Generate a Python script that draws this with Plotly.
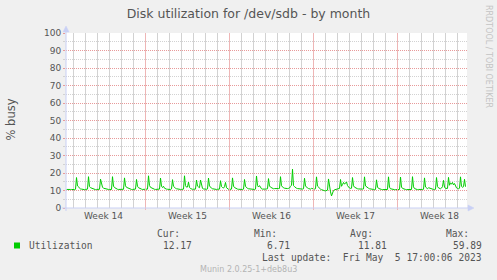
import plotly.graph_objects as go
import pandas as pd

# ---------------- data ----------------
title_text = "Disk utilization for /dev/sdb - by month"
y_label = "% busy"
series_name = "Utilization"
series_color = "#00cc00"

start_time = "2023-04-03 10:00"   # first sample, 2-hour resolution
sample_step = "2h"

# % busy, one list per day (2-hour samples), Apr 3 .. May 6 2023
util_by_day = [
    [10.6, 10.7, 10.6, 10.5, 10.6, 10.6, 10.5],
    [10.6, 10.5, 10.7, 17.4, 12.6, 11.8, 11.2, 10.9, 10.8, 10.6, 10.7, 10.5],
    [10.6, 10.6, 10.8, 17.9, 12.3, 11.6, 11.4, 11.0, 10.7, 10.6, 10.5, 10.6],
    [10.5, 10.6, 10.7, 16.5, 12.8, 11.9, 11.3, 11.1, 10.8, 10.7, 10.6, 10.6],
    [10.6, 10.7, 10.6, 17.9, 12.5, 11.7, 11.2, 10.9, 10.7, 10.6, 10.6, 10.5],
    [10.6, 10.5, 10.7, 17.2, 12.7, 11.8, 11.5, 11.2, 10.9, 10.7, 10.6, 10.6],
    [10.7, 10.6, 10.8, 16.3, 12.4, 11.6, 11.2, 11.0, 10.8, 10.6, 10.6, 10.5],
    [10.6, 10.6, 10.8, 18.4, 12.9, 11.8, 11.4, 11.1, 10.8, 10.7, 10.6, 10.6],
    [10.6, 10.7, 10.8, 17.1, 12.5, 11.7, 12.4, 11.3, 10.9, 10.8, 10.7, 10.6],
    [10.7, 10.6, 10.9, 16.2, 12.4, 11.6, 11.3, 11.0, 10.8, 10.7, 10.6, 10.6],
    [10.6, 10.7, 10.8, 18.4, 12.8, 11.9, 12.0, 14.8, 11.8, 11.1, 10.8, 10.7],
    [10.7, 10.6, 10.8, 16.0, 12.5, 12.0, 11.6, 16.0, 12.2, 11.2, 10.9, 10.7],
    [10.6, 10.7, 10.9, 17.1, 12.6, 11.8, 11.3, 11.0, 10.8, 10.7, 10.6, 10.6],
    [10.7, 10.6, 10.8, 15.6, 12.3, 11.7, 11.4, 12.2, 14.6, 11.6, 10.9, 10.7],
    [10.6, 10.7, 10.8, 17.2, 12.5, 11.7, 11.3, 11.0, 10.8, 10.7, 10.6, 10.6],
    [10.6, 10.6, 10.8, 16.3, 12.4, 11.6, 11.2, 11.0, 10.9, 10.8, 10.7, 10.6],
    [10.7, 10.6, 10.8, 18.3, 12.9, 12.0, 12.8, 11.6, 11.0, 10.8, 10.7, 10.7],
    [10.8, 10.9, 11.0, 16.8, 12.6, 11.9, 11.5, 11.2, 11.0, 11.1, 11.0, 10.9],
    [11.0, 11.1, 11.2, 17.9, 12.7, 11.9, 11.5, 11.3, 11.1, 11.0, 11.1, 11.2],
    [11.4, 12.4, 13.0, 22.2, 12.8, 12.2, 11.6, 11.3, 11.1, 11.0, 10.9, 10.9],
    [10.9, 10.8, 11.0, 17.0, 12.6, 11.8, 11.4, 11.1, 10.9, 10.8, 11.2, 11.0],
    [10.9, 10.8, 11.0, 17.8, 12.5, 11.7, 11.2, 10.8, 10.5, 10.2, 10.0, 9.9],
    [9.8, 9.9, 10.2, 16.6, 11.4, 9.2, 6.9, 9.3, 10.0, 10.4, 10.6, 10.8],
    [10.9, 11.0, 11.2, 16.3, 12.4, 13.4, 14.6, 13.6, 14.3, 14.9, 12.8, 11.9],
    [11.4, 11.2, 11.3, 17.4, 12.7, 11.9, 11.5, 11.2, 11.0, 10.9, 10.8, 10.7],
    [10.7, 10.8, 10.9, 17.8, 12.6, 12.0, 11.6, 11.3, 11.0, 10.8, 10.7, 10.6],
    [10.6, 10.5, 10.6, 16.1, 12.0, 11.2, 10.9, 10.7, 10.6, 10.5, 10.5, 10.5],
    [10.5, 10.5, 10.6, 17.8, 11.9, 11.0, 10.8, 10.6, 10.5, 10.5, 10.5, 10.5],
    [10.5, 10.6, 10.6, 17.7, 12.0, 11.2, 10.9, 10.7, 10.6, 10.5, 10.5, 10.6],
    [10.6, 10.5, 10.6, 17.9, 12.1, 11.1, 10.8, 10.6, 10.5, 10.6, 10.5, 10.5],
    [10.5, 10.6, 10.7, 17.2, 12.0, 11.3, 11.0, 11.6, 11.4, 10.8, 10.6, 10.5],
    [10.6, 10.6, 10.7, 17.4, 12.3, 11.5, 11.2, 11.0, 11.4, 12.2, 15.8, 12.0],
    [11.2, 11.0, 11.2, 17.5, 13.0, 14.4, 13.6, 14.6, 13.2, 14.0, 12.3, 11.5],
    [11.2, 11.0, 11.3, 17.8, 12.5, 11.8, 12.2, 16.4, 12.17],
]

x_range = ["2023-04-03 09:00", "2023-05-06 19:00"]
week_starts = ["2023-04-03", "2023-04-10", "2023-04-17", "2023-04-24", "2023-05-01"]
week_labels = ["Week 14", "Week 15", "Week 16", "Week 17", "Week 18"]
y_ticks = [0, 10, 20, 30, 40, 50, 60, 70, 80, 90, 100]

stat_names = ["Cur:", "Min:", "Avg:", "Max:"]
stat_values = ["12.17", "6.71", "11.81", "59.89"]
last_update = "Last update:\u00a0\u00a0Fri May\u00a0\u00a05 17:00:06 2023"
version_text = "Munin 2.0.25-1+deb8u3"
watermark = "RRDTOOL / TOBI OETIKER"

# ---------------- layout geometry ----------------
W_PX, H_PX = 497, 280
L, R, T, B = 66, 30, 33, 72
PW = W_PX - L - R
PH = H_PX - T - B


def px2x(px):
    return (px - L) / PW


def py2y(py):
    return (H_PX - B - py) / PH


values = [v for day in util_by_day for v in day]
times = pd.date_range(start_time, periods=len(values), freq=sample_step)

TEXT = "#555555"
AXIS = "#c9d0f5"
MGRID = "#e89a9a"
MGRID_V = "#eeb6b6"
GRID = "#d2d2d2"
DOT = "1px,1px"

week_bounds = [w for w in week_starts if pd.Timestamp(w) > pd.Timestamp(x_range[0])]
week_mid = [pd.Timestamp(w) + pd.Timedelta(hours=84) for w in week_starts]
y_step = y_ticks[1] - y_ticks[0]

fig = go.Figure()
fig.add_trace(go.Scatter(x=times, y=values, mode="lines", name=series_name,
                         line=dict(color=series_color, width=1), showlegend=False,
                         hoverinfo="skip"))

fig.update_layout(
    width=W_PX, height=H_PX,
    margin=dict(l=L, r=R, t=T, b=B, pad=0),
    paper_bgcolor="#f0f0f0", plot_bgcolor="#ffffff",
    font=dict(family="DejaVu Sans", size=9, color=TEXT),
    title=dict(text=title_text, x=0.5, xanchor="center", xref="container",
               y=1 - 13.5 / H_PX, yanchor="middle", yref="container",
               font=dict(family="DejaVu Sans", size=12.5, color=TEXT)),
    # daily grid
    xaxis=dict(type="date", range=x_range, tickmode="linear", tick0=week_starts[0],
               dtick=86400000, showticklabels=False, ticks="", showgrid=True,
               gridcolor=GRID, gridwidth=1, zeroline=False, showline=False),
    # 10 % grid (dotted red) and 5 % grid (light grey)
    yaxis=dict(range=[0, 100], tickmode="linear", tick0=y_ticks[0], dtick=y_step,
               ticks="outside", ticklen=2, tickcolor=MGRID, showgrid=True,
               gridcolor=MGRID, griddash=DOT, gridwidth=1, zeroline=False, showline=False,
               tickfont=dict(family="DejaVu Sans", size=9, color=TEXT),
               minor=dict(tickmode="linear", tick0=y_ticks[0], dtick=y_step / 2,
                          showgrid=True, gridcolor=GRID, gridwidth=1,
                          ticks="outside", ticklen=2, tickcolor=GRID)),
)

shapes = []
# week boundaries
for w in week_bounds:
    shapes.append(dict(type="line", xref="x", yref="paper", x0=w, x1=w,
                       y0=py2y(210), y1=1, layer="above",
                       line=dict(color=MGRID_V, width=1)))
shapes += [
    dict(type="line", xref="paper", yref="paper", x0=px2x(66), x1=px2x(66),
         y0=py2y(211), y1=py2y(30), line=dict(color=AXIS, width=1)),
    dict(type="line", xref="paper", yref="paper", x0=px2x(62), x1=px2x(470),
         y0=py2y(208), y1=py2y(208), line=dict(color=AXIS, width=1)),
    dict(type="path", xref="paper", yref="paper", fillcolor=AXIS, line=dict(color=AXIS, width=0.5),
         path=f"M {px2x(63)} {py2y(32)} L {px2x(69)} {py2y(32)} L {px2x(66)} {py2y(26)} Z"),
    dict(type="path", xref="paper", yref="paper", fillcolor=AXIS, line=dict(color=AXIS, width=0.5),
         path=f"M {px2x(468)} {py2y(205)} L {px2x(468)} {py2y(211)} L {px2x(474)} {py2y(208)} Z"),
    dict(type="rect", xref="paper", yref="paper", x0=px2x(14), x1=px2x(20),
         y0=py2y(248.5), y1=py2y(242.5), fillcolor=series_color, line=dict(width=0)),
]
fig.update_layout(shapes=shapes)

ann = []
for pos, lab in zip(week_mid, week_labels):
    ann.append(dict(x=pos, xref="x", y=py2y(216.5), yref="paper", text=lab,
                    showarrow=False, xanchor="center", yanchor="middle",
                    font=dict(family="DejaVu Sans", size=9, color=TEXT)))
ann.append(dict(x=px2x(10.5), y=py2y(119), xref="paper", yref="paper", text=y_label,
                textangle=-90, showarrow=False, xanchor="center", yanchor="middle",
                font=dict(family="DejaVu Sans", size=11.5, color=TEXT)))
ann.append(dict(x=px2x(488.5), y=py2y(56.5), xref="paper", yref="paper", text=watermark,
                textangle=90, showarrow=False, xanchor="center", yanchor="middle",
                font=dict(family="DejaVu Sans", size=8, color="#c4c4c4")))

MONO = dict(family="DejaVu Sans Mono", size=9.6, color=TEXT)
head_right = [181.5, 278.5, 374.5, 470.5]
val_right = [194, 292, 388.5, 484]
for name, hx in zip(stat_names, head_right):
    ann.append(dict(x=px2x(hx), y=py2y(233), xref="paper", yref="paper", text=name,
                    showarrow=False, xanchor="right", yanchor="middle", font=MONO))
for val, vx in zip(stat_values, val_right):
    ann.append(dict(x=px2x(vx), y=py2y(245.7), xref="paper", yref="paper", text=val,
                    showarrow=False, xanchor="right", yanchor="middle", font=MONO))
ann.append(dict(x=px2x(26.5), y=py2y(245.7), xref="paper", yref="paper", text=series_name,
                showarrow=False, xanchor="left", yanchor="middle", font=MONO))
ann.append(dict(x=px2x(484), y=py2y(257.7), xref="paper", yref="paper", text=last_update,
                showarrow=False, xanchor="right", yanchor="middle", font=MONO))
ann.append(dict(x=px2x(248.5), y=py2y(269), xref="paper", yref="paper", text=version_text,
                showarrow=False, xanchor="center", yanchor="middle",
                font=dict(family="DejaVu Sans", size=8, color="#b4b4b4")))
fig.update_layout(annotations=ann)

fig.write_html("out.html")
